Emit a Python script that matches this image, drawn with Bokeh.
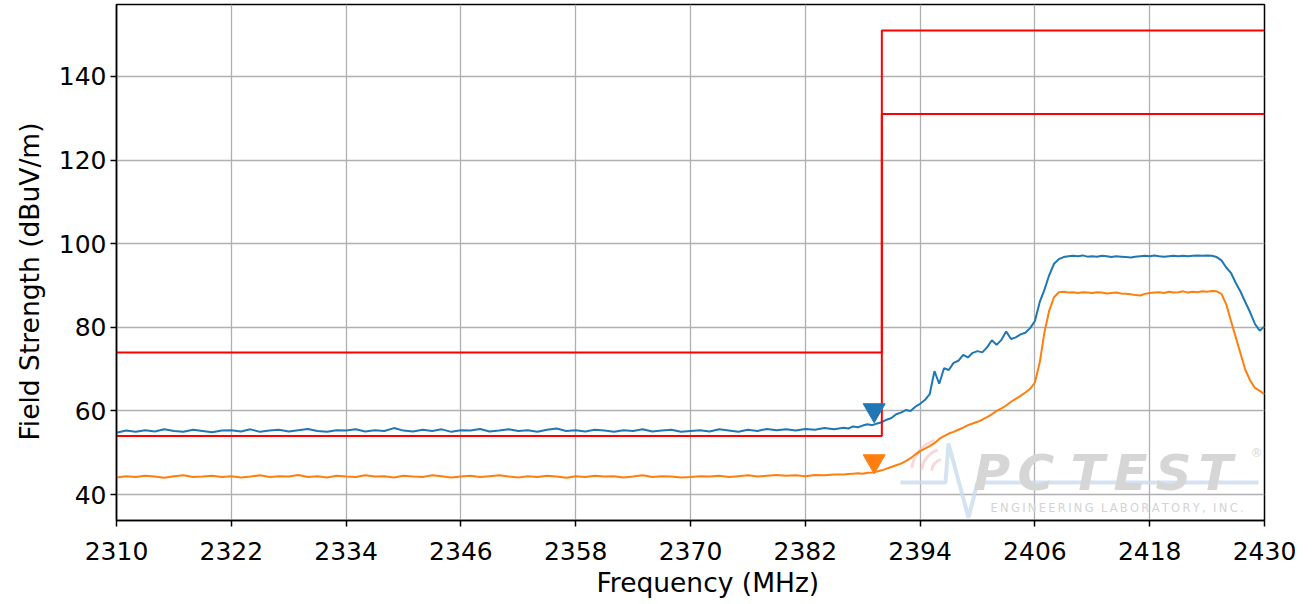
from bokeh.plotting import figure
from bokeh.models import ColumnDataSource, FixedTicker, Title
from bokeh.core.properties import value
from bokeh.embed import file_html
from bokeh.resources import INLINE

# ---------------- data ----------------
freq_mhz = list(range(2310, 2386)) + [2386 + 0.5 * i for i in range(89)]

peak_dbuv = [
    54.8, 55.3, 55.0, 55.4, 55.1, 55.6, 55.2, 55.0, 55.5, 55.2,
    54.9, 55.3, 55.4, 55.1, 55.6, 55.0, 55.3, 55.5, 55.1, 55.4,
    55.7, 55.2, 55.0, 55.4, 55.3, 55.6, 55.1, 55.4, 55.2, 55.9,
    55.3, 55.1, 55.5, 55.2, 55.6, 55.0, 55.4, 55.3, 55.7, 55.1,
    55.3, 55.6, 55.2, 55.4, 55.0, 55.5, 55.8, 55.2, 55.4, 55.1,
    55.5, 55.3, 55.0, 55.4, 55.2, 55.6, 55.1, 55.3, 55.5, 55.0,
    55.2, 55.4, 55.1, 55.6, 55.3, 55.0, 55.5, 55.2, 55.7, 55.4,
    55.6, 55.3, 55.7, 55.5, 55.9, 55.6,
    56.0, 55.8, 56.3, 56.1, 56.5, 56.8, 56.6, 57.0, 57.3, 57.9,
    58.3, 59.2, 59.6, 60.2, 60.0, 61.0, 61.7, 62.6, 64.0, 69.5,
    66.5, 70.2, 69.8, 71.5, 72.0, 73.4, 72.8, 73.9, 74.3, 74.0,
    75.2, 76.9, 75.8, 77.0, 79.0, 77.2, 77.6, 78.3, 78.7, 79.8,
    81.5, 86.0, 89.0, 92.5, 95.2, 96.3, 96.8, 97.0, 97.1, 97.0,
    97.2, 96.9, 97.0, 96.9, 97.1, 97.0, 96.8, 97.0, 96.9, 96.8,
    96.7, 96.9, 97.0, 97.1, 97.0, 97.2, 97.0, 96.9, 97.0, 97.1,
    97.0, 97.1, 97.0, 97.1, 97.2, 97.1, 97.2, 97.1, 96.8, 96.0,
    94.3, 93.0, 90.6, 88.5, 86.0, 83.6, 80.8, 79.2, 80.2,
]

avg_dbuv = [
    44.1, 44.4, 44.2, 44.5, 44.3, 44.0, 44.4, 44.6, 44.2, 44.3,
    44.5, 44.2, 44.4, 44.1, 44.3, 44.6, 44.2, 44.4, 44.3, 44.7,
    44.2, 44.4, 44.1, 44.5, 44.3, 44.2, 44.6, 44.3, 44.4, 44.1,
    44.5, 44.3, 44.2, 44.6, 44.4, 44.1, 44.3, 44.5, 44.2, 44.4,
    44.6, 44.3, 44.1, 44.4, 44.2, 44.5, 44.3, 44.0, 44.4, 44.2,
    44.5, 44.3, 44.4, 44.1, 44.3, 44.6, 44.2, 44.4, 44.3, 44.1,
    44.2, 44.4, 44.3, 44.5, 44.2, 44.4, 44.6, 44.3, 44.5, 44.7,
    44.5, 44.6, 44.4, 44.7, 44.6, 44.8,
    44.8, 44.9, 45.0, 45.1, 45.0, 45.2, 45.3, 45.5, 45.8, 46.2,
    46.6, 47.0, 47.4, 48.0, 48.7, 49.6, 50.4, 51.0, 51.6, 52.3,
    53.3, 54.0, 54.6, 55.0, 55.5, 56.0, 56.6, 57.0, 57.4, 57.9,
    58.5, 59.2, 60.0, 60.6, 61.3, 62.2, 62.9, 63.6, 64.4, 65.3,
    66.8, 71.5, 78.8, 84.0, 87.2, 88.4, 88.5, 88.3, 88.4, 88.2,
    88.4, 88.3, 88.2, 88.4, 88.3, 88.1, 88.2, 88.3, 88.1, 88.0,
    87.9, 87.7, 87.6, 88.0, 88.2, 88.3, 88.4, 88.2, 88.5, 88.3,
    88.4, 88.6, 88.3, 88.5, 88.4, 88.6, 88.5, 88.7, 88.6, 88.0,
    85.5, 81.5, 77.6, 73.7, 69.8, 67.3, 65.5, 64.8, 64.0,
]

# limit lines
limit_peak_freq = [2310, 2390, 2390, 2430]
limit_peak_val = [74, 74, 151, 151]
limit_avg_freq = [2310, 2390, 2390, 2430]
limit_avg_val = [54, 54, 131, 131]

# markers
marker_freq = [2389.2]
marker_peak = [60.2]
marker_avg = [48.0]

x_ticks = [2310, 2322, 2334, 2346, 2358, 2370, 2382, 2394, 2406, 2418, 2430]
y_ticks = [40, 60, 80, 100, 120, 140]

x_title = "Frequency (MHz)"
y_title = "Field Strength (dBuV/m)"

BLUE = "#1f77b4"
ORANGE = "#ff7f0e"
RED = "#ff0000"
FONT = "DejaVu Sans"

p = figure(width=1304, height=600, x_range=(2310, 2430), y_range=(33.8, 157.2),
           output_backend="svg", toolbar_location=None,
           min_border_left=116, min_border_right=40, min_border_top=4, min_border_bottom=80)

p.outline_line_color = "black"
p.outline_line_width = 1.5
p.background_fill_color = "white"
p.border_fill_color = "white"

for ax in (p.xaxis[0], p.yaxis[0]):
    ax.axis_line_color = "black"
    ax.axis_line_width = 1.5
    ax.major_tick_line_color = "black"
    ax.major_tick_line_width = 1.5
    ax.major_tick_out = 6
    ax.major_tick_in = 0
    ax.minor_tick_out = 0
    ax.minor_tick_in = 0
    ax.major_label_text_font = FONT
    ax.major_label_text_font_size = "25px"
    ax.major_label_text_color = "black"

p.xaxis.ticker = FixedTicker(ticks=x_ticks)
p.yaxis.ticker = FixedTicker(ticks=y_ticks)
p.xaxis.major_label_standoff = 15
p.yaxis.major_label_standoff = 4

p.grid.grid_line_color = "#b0b0b0"
p.grid.grid_line_width = 1.3

# axis titles (as side titles so they can be offset like the reference)
p.add_layout(Title(text=x_title, align="left", offset=480, text_font=FONT,
                   text_font_size="26.5px", text_font_style="normal",
                   text_color="black", standoff=5), "below")
p.add_layout(Title(text=y_title, align="left", offset=80, text_font=FONT,
                   text_font_size="26.5px", text_font_style="normal",
                   text_color="black", standoff=22), "left")

# pixel -> data helpers for placing the watermark decoration
def dx(px):
    return 2310 + (px - 116) / 9.567

def dy(py):
    return 40 + (494 - py) / 4.18

# ---- watermark (decoration, drawn under data) ----
pulse_x = [dx(v) for v in (900, 945, 948, 968, 977, 1258)]
pulse_y = [dy(v) for v in (482, 482, 443, 517, 482, 482)]
p.line(pulse_x, pulse_y, line_color="#c9dcee", line_width=4, line_alpha=0.8)
p.arc(x=[dx(945)] * 3, y=[dy(472)] * 3, radius=[14, 24, 34], radius_units="screen",
      start_angle=1.9, end_angle=3.0, line_color="#f4c0c0", line_width=3, line_alpha=0.6)

letters = ["P", "C", "T", "E", "S", "T"]
letter_px = [973, 1017, 1070, 1113, 1155, 1198]
p.text(x=[dx(v) for v in letter_px], y=[dy(472)] * 6, text=letters,
       text_font=value(FONT), text_font_size="50px", text_font_style="bold italic",
       text_color="#d6d6d6", text_baseline="alphabetic", text_align="left")
p.text(x=[dx(1250)], y=[dy(452)], text=["®"], text_font=value(FONT),
       text_font_size="12px", text_color="#d6d6d6", text_baseline="alphabetic")
thin = "\u2009"
sub = "\u00a0\u00a0".join(thin.join(w) for w in ["ENGINEERING", "LABORATORY,", "INC."])
p.text(x=[dx(990)], y=[dy(507)], text=[sub],
       text_font=value(FONT), text_font_size="11.5px", text_color="#d3d3d3",
       text_baseline="alphabetic", text_align="left")

# ---- data ----
src = ColumnDataSource(dict(f=freq_mhz, peak=peak_dbuv, avg=avg_dbuv))
p.line("f", "peak", source=src, line_color=BLUE, line_width=2)
p.line("f", "avg", source=src, line_color=ORANGE, line_width=2)

p.line(limit_peak_freq, limit_peak_val, line_color=RED, line_width=2)
p.line(limit_avg_freq, limit_avg_val, line_color=RED, line_width=2)

p.scatter(marker_freq, marker_peak, marker="inverted_triangle", size=22,
          fill_color=BLUE, line_color=BLUE)
p.scatter(marker_freq, marker_avg, marker="inverted_triangle", size=22,
          fill_color=ORANGE, line_color=ORANGE)

open("out.html", "w").write(file_html(p, INLINE))
